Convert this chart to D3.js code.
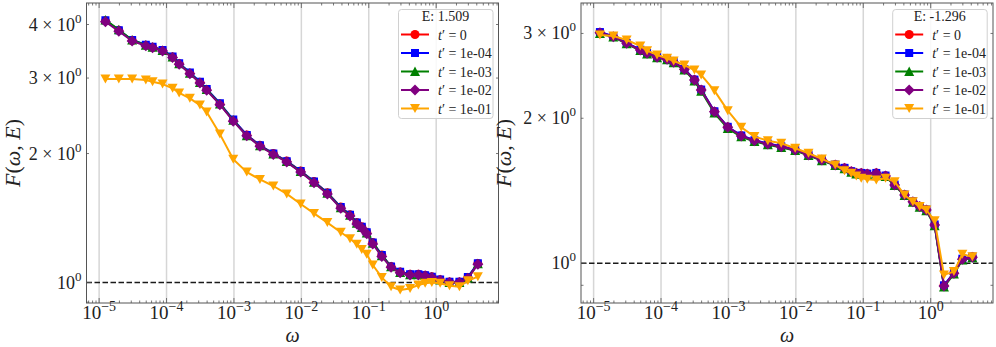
<!DOCTYPE html>
<html>
<head>
<meta charset="utf-8">
<script src="https://cdn.jsdelivr.net/npm/d3@7"></script>
<style>
  body { margin: 0; background: #fff; }
  svg text { font-family: "Liberation Serif", "DejaVu Serif", serif; fill: #222; }
</style>
</head>
<body>
<div id="chart"></div>
<script>
// frecuencias (comunes a los dos paneles)
const omega = [1.24e-5, 1.96e-5, 3.09e-5, 4.93e-5, 6.21e-5, 8.73e-5, 1.23e-4, 1.54e-4, 2.22e-4, 3.13e-4,
  3.94e-4, 6.19e-4, 9.77e-4, 1.55e-3, 2.43e-3, 3.84e-3, 6.07e-3, 9.77e-3, 1.54e-2, 2.43e-2,
  3.84e-2, 5.27e-2, 6.64e-2, 7.87e-2, 9.33e-2, 0.1146, 0.156, 0.214, 0.292, 0.41,
  0.544, 0.686, 0.861, 1.145, 1.574, 2.21, 2.95, 4.15];

const seriesLabels = ["0", "1e-04", "1e-03", "1e-02", "1e-01"];
const seriesColors = ["#ff0000", "#0000ff", "#008000", "#800080", "#ffa500"];
const seriesShapes = ["circle", "square", "triangleUp", "diamond", "triangleDown"];

// Panel izquierdo, E = 1.509
const leftTitle = "E: 1.509";
const leftT0 = [4.08, 3.88, 3.67, 3.58, 3.54, 3.48, 3.36, 3.24, 3.08, 2.93, 2.82, 2.61, 2.39, 2.21, 2.09, 2.00, 1.92, 1.82, 1.72, 1.62,
  1.50, 1.44, 1.38, 1.35, 1.31, 1.24, 1.16, 1.09, 1.058, 1.045, 1.045, 1.04, 1.031, 1.015, 1.003, 1.003, 1.028, 1.108];
const leftT4 = [4.09, 3.88, 3.68, 3.59, 3.55, 3.49, 3.37, 3.25, 3.09, 2.94, 2.83, 2.62, 2.40, 2.21, 2.09, 2.00, 1.92, 1.82, 1.72, 1.62,
  1.50, 1.44, 1.38, 1.35, 1.31, 1.24, 1.16, 1.09, 1.06, 1.046, 1.046, 1.04, 1.032, 1.016, 1.004, 1.004, 1.03, 1.11];
const leftT3 = [4.10, 3.89, 3.68, 3.58, 3.54, 3.48, 3.36, 3.24, 3.08, 2.93, 2.82, 2.61, 2.39, 2.20, 2.085, 1.995, 1.915, 1.815, 1.715, 1.615,
  1.495, 1.435, 1.375, 1.345, 1.305, 1.235, 1.155, 1.088, 1.056, 1.043, 1.043, 1.038, 1.03, 1.014, 1.0, 1.0, 1.025, 1.106];
const leftT2 = [4.06, 3.86, 3.66, 3.57, 3.53, 3.47, 3.35, 3.23, 3.07, 2.92, 2.81, 2.60, 2.38, 2.20, 2.08, 1.99, 1.91, 1.81, 1.71, 1.61,
  1.49, 1.43, 1.37, 1.34, 1.30, 1.23, 1.15, 1.085, 1.054, 1.041, 1.041, 1.036, 1.028, 1.013, 1.0, 1.0, 1.023, 1.104];
const leftT1 = [2.985, 2.985, 2.985, 2.97, 2.94, 2.905, 2.84, 2.77, 2.69, 2.595, 2.50, 2.22, 1.94, 1.81, 1.74, 1.68, 1.61, 1.525, 1.45, 1.38,
  1.31, 1.265, 1.228, 1.195, 1.164, 1.099, 1.028, 0.978, 0.961, 0.969, 0.987, 0.996, 1.0, 0.996, 0.983, 0.978, 1.01, 1.032];

// Panel derecho, E = -1.296
const rightTitle = "E: -1.296";
const rightT0 = [3.015, 2.957, 2.865, 2.774, 2.731, 2.679, 2.653, 2.616, 2.529, 2.404, 2.292, 2.066, 1.918, 1.84, 1.799, 1.771, 1.748, 1.721, 1.68, 1.64,
  1.602, 1.577, 1.552, 1.539, 1.539, 1.534, 1.539, 1.52, 1.456, 1.388, 1.344, 1.313, 1.292, 1.203, 0.899, 0.955, 1.021, 1.031];
const rightT4 = [3.02, 2.96, 2.867, 2.776, 2.733, 2.68, 2.655, 2.618, 2.531, 2.406, 2.294, 2.068, 1.92, 1.842, 1.8, 1.772, 1.749, 1.722, 1.681, 1.641,
  1.603, 1.578, 1.553, 1.54, 1.54, 1.535, 1.54, 1.521, 1.457, 1.389, 1.345, 1.314, 1.293, 1.204, 0.9, 0.956, 1.022, 1.032];
const rightT3 = [3.00, 2.95, 2.855, 2.765, 2.72, 2.67, 2.645, 2.607, 2.52, 2.39, 2.275, 2.05, 1.905, 1.83, 1.79, 1.763, 1.74, 1.714, 1.673, 1.633,
  1.596, 1.571, 1.546, 1.533, 1.533, 1.528, 1.533, 1.514, 1.45, 1.382, 1.338, 1.307, 1.286, 1.196, 0.893, 0.95, 1.016, 1.027];
const rightT2 = [3.01, 2.954, 2.862, 2.772, 2.729, 2.677, 2.651, 2.614, 2.527, 2.402, 2.29, 2.064, 1.916, 1.838, 1.797, 1.769, 1.746, 1.719, 1.678, 1.638,
  1.60, 1.575, 1.55, 1.537, 1.537, 1.532, 1.537, 1.518, 1.454, 1.386, 1.342, 1.311, 1.29, 1.201, 0.897, 0.953, 1.019, 1.029];
const rightT1 = [2.978, 2.964, 2.908, 2.826, 2.763, 2.707, 2.665, 2.63, 2.58, 2.519, 2.46, 2.282, 2.074, 1.916, 1.832, 1.797, 1.775, 1.733, 1.692, 1.647,
  1.60, 1.557, 1.537, 1.518, 1.501, 1.494, 1.489, 1.501, 1.477, 1.386, 1.342, 1.311, 1.29, 1.226, 0.946, 0.961, 1.044, 1.032];

// Marcas de los ejes
const xTickExps = [-5, -4, -3, -2, -1, 0];
const leftYTicks = [2, 3, 4];
const rightYTicks = [2, 3];

const width = 996, height = 347;
const plotTop = 3, plotBottom = 303;

const svg = d3.select("#chart").append("svg")
  .attr("width", width)
  .attr("height", height);

// Formas de los marcadores (estilo matplotlib)
function markerPath(shape) {
  if (shape === "circle") return d3.symbol(d3.symbolCircle, 64)();
  if (shape === "square") return "M-4,-4h8v8h-8Z";
  if (shape === "triangleUp") return "M0,-5L5,4.5L-5,4.5Z";
  if (shape === "diamond") return "M0,-5.5L5.5,0L0,5.5L-5.5,0Z";
  return "M0,4.5L-5,-4.5L5,-4.5Z";
}

function drawPanel(cfg) {
  const x = d3.scaleLog().domain([6.5e-6, 8.4]).range([cfg.x0, cfg.x1]);
  const y = d3.scaleLog().domain(cfg.yDomain).range([plotBottom, plotTop]);
  const g = svg.append("g");

  const clipId = "clip" + cfg.id;
  g.append("clipPath").attr("id", clipId)
    .append("rect")
    .attr("x", cfg.x0).attr("y", plotTop)
    .attr("width", cfg.x1 - cfg.x0).attr("height", plotBottom - plotTop);

  // rejilla vertical en las décadas
  g.append("g")
    .selectAll("line")
    .data(xTickExps)
    .join("line")
    .attr("x1", d => x(Math.pow(10, d))).attr("x2", d => x(Math.pow(10, d)))
    .attr("y1", plotTop).attr("y2", plotBottom)
    .attr("stroke", "#d6d6d6")
    .attr("stroke-width", 1.5);

  // línea de referencia F = 1
  g.append("line")
    .attr("x1", cfg.x0).attr("x2", cfg.x1)
    .attr("y1", y(1)).attr("y2", y(1))
    .attr("stroke", "#1a1a1a")
    .attr("stroke-width", 1.5)
    .attr("stroke-dasharray", "5.5,2.5");

  const line = d3.line().x(d => x(d[0])).y(d => y(d[1]));
  const body = g.append("g").attr("clip-path", `url(#${clipId})`);

  cfg.series.forEach((vals, i) => {
    const pts = omega.map((w, k) => [w, vals[k]]);
    body.append("path")
      .datum(pts)
      .attr("fill", "none")
      .attr("stroke", seriesColors[i])
      .attr("stroke-width", 2)
      .attr("stroke-linejoin", "round")
      .attr("d", line);
    body.append("g")
      .selectAll("path")
      .data(pts)
      .join("path")
      .attr("transform", d => `translate(${x(d[0])},${y(d[1])})`)
      .attr("d", markerPath(seriesShapes[i]))
      .attr("fill", seriesColors[i]);
  });

  // marco
  g.append("rect")
    .attr("x", cfg.x0).attr("y", plotTop)
    .attr("width", cfg.x1 - cfg.x0).attr("height", plotBottom - plotTop)
    .attr("fill", "none")
    .attr("stroke", "#555")
    .attr("stroke-width", 1);

  // marcas del eje x (hacia dentro, arriba y abajo)
  const xMinor = [];
  for (let e = -6; e <= 1; e++) {
    for (let k = 2; k <= 9; k++) {
      const v = k * Math.pow(10, e);
      if (v > 6.5e-6 && v < 8.4) xMinor.push(v);
    }
  }
  const xt = g.append("g").attr("stroke", "#555").attr("stroke-width", 0.8);
  xTickExps.forEach(e => {
    const px = x(Math.pow(10, e));
    xt.append("line").attr("x1", px).attr("x2", px).attr("y1", plotBottom).attr("y2", plotBottom - 5);
    xt.append("line").attr("x1", px).attr("x2", px).attr("y1", plotTop).attr("y2", plotTop + 5);
  });
  xMinor.forEach(v => {
    const px = x(v);
    xt.append("line").attr("x1", px).attr("x2", px).attr("y1", plotBottom).attr("y2", plotBottom - 2.5);
    xt.append("line").attr("x1", px).attr("x2", px).attr("y1", plotTop).attr("y2", plotTop + 2.5);
  });

  // marcas del eje y
  const yMinor = [0.9].concat(cfg.yTicks);
  [1].forEach(v => {
    xt.append("line").attr("x1", cfg.x0).attr("x2", cfg.x0 + 5).attr("y1", y(v)).attr("y2", y(v));
    xt.append("line").attr("x1", cfg.x1).attr("x2", cfg.x1 - 5).attr("y1", y(v)).attr("y2", y(v));
  });
  yMinor.forEach(v => {
    xt.append("line").attr("x1", cfg.x0).attr("x2", cfg.x0 + 2.5).attr("y1", y(v)).attr("y2", y(v));
    xt.append("line").attr("x1", cfg.x1).attr("x2", cfg.x1 - 2.5).attr("y1", y(v)).attr("y2", y(v));
  });

  // etiquetas del eje x
  xTickExps.forEach(e => {
    const t = g.append("text")
      .attr("x", x(Math.pow(10, e)))
      .attr("y", 319)
      .attr("text-anchor", "middle")
      .attr("font-size", 19);
    t.append("tspan").text("10");
    t.append("tspan").attr("dy", -8).attr("font-size", 14).text(e === 0 ? "0" : "\u2212" + Math.abs(e));
  });

  // etiquetas del eje y
  const yLab = (v, prefix) => {
    const t = g.append("text")
      .attr("x", cfg.x0 - 5)
      .attr("y", y(v) + 6)
      .attr("text-anchor", "end")
      .attr("font-size", 18);
    t.append("tspan").text(prefix + "10");
    t.append("tspan").attr("dy", -8).attr("font-size", 13).text("0");
  };
  yLab(1, "");
  cfg.yTicks.forEach(v => yLab(v, v + " \u00d7 "));

  // títulos de los ejes
  g.append("text")
    .attr("x", (cfg.x0 + cfg.x1) / 2)
    .attr("y", 342)
    .attr("text-anchor", "middle")
    .attr("font-size", 20)
    .attr("font-style", "italic")
    .text("\u03c9");

  const yl = g.append("text")
    .attr("transform", `translate(${cfg.ylabelX},${(plotTop + plotBottom) / 2}) rotate(-90)`)
    .attr("text-anchor", "middle")
    .attr("font-size", 22);
  yl.append("tspan").attr("font-style", "italic").text("F");
  yl.append("tspan").text("(");
  yl.append("tspan").attr("font-style", "italic").text("\u03c9");
  yl.append("tspan").text(", ");
  yl.append("tspan").attr("font-style", "italic").text("E");
  yl.append("tspan").text(")");

  // leyenda
  const lx = cfg.legendX, ly = 9.5;
  const lg = g.append("g");
  lg.append("rect")
    .attr("x", lx).attr("y", ly)
    .attr("width", 94.5).attr("height", 109)
    .attr("rx", 3)
    .attr("fill", "#fff")
    .attr("fill-opacity", 0.85)
    .attr("stroke", "#d0d0d0");
  lg.append("text")
    .attr("x", lx + 47)
    .attr("y", ly + 11)
    .attr("text-anchor", "middle")
    .attr("font-size", 14)
    .text(cfg.title);
  seriesLabels.forEach((lab, i) => {
    const ry = ly + 25 + i * 18.5;
    lg.append("line")
      .attr("x1", lx + 2.5).attr("x2", lx + 30.5)
      .attr("y1", ry).attr("y2", ry)
      .attr("stroke", seriesColors[i])
      .attr("stroke-width", 2);
    lg.append("path")
      .attr("transform", `translate(${lx + 16.5},${ry})`)
      .attr("d", markerPath(seriesShapes[i]))
      .attr("fill", seriesColors[i]);
    const t = lg.append("text")
      .attr("x", lx + 39.5)
      .attr("y", ry + 5)
      .attr("font-size", 14);
    t.append("tspan").attr("font-style", "italic").text("t");
    t.append("tspan").text("\u2032 = " + lab);
  });
}

drawPanel({
  id: "L", x0: 86.5, x1: 498.5, yDomain: [0.896, 4.49], yTicks: leftYTicks,
  title: leftTitle, series: [leftT0, leftT4, leftT3, leftT2, leftT1],
  legendX: 398.5, ylabelX: 20
});
drawPanel({
  id: "R", x0: 581, x1: 993, yDomain: [0.827, 3.47], yTicks: rightYTicks,
  title: rightTitle, series: [rightT0, rightT4, rightT3, rightT2, rightT1],
  legendX: 892.7, ylabelX: 511
});
</script>
</body>
</html>
